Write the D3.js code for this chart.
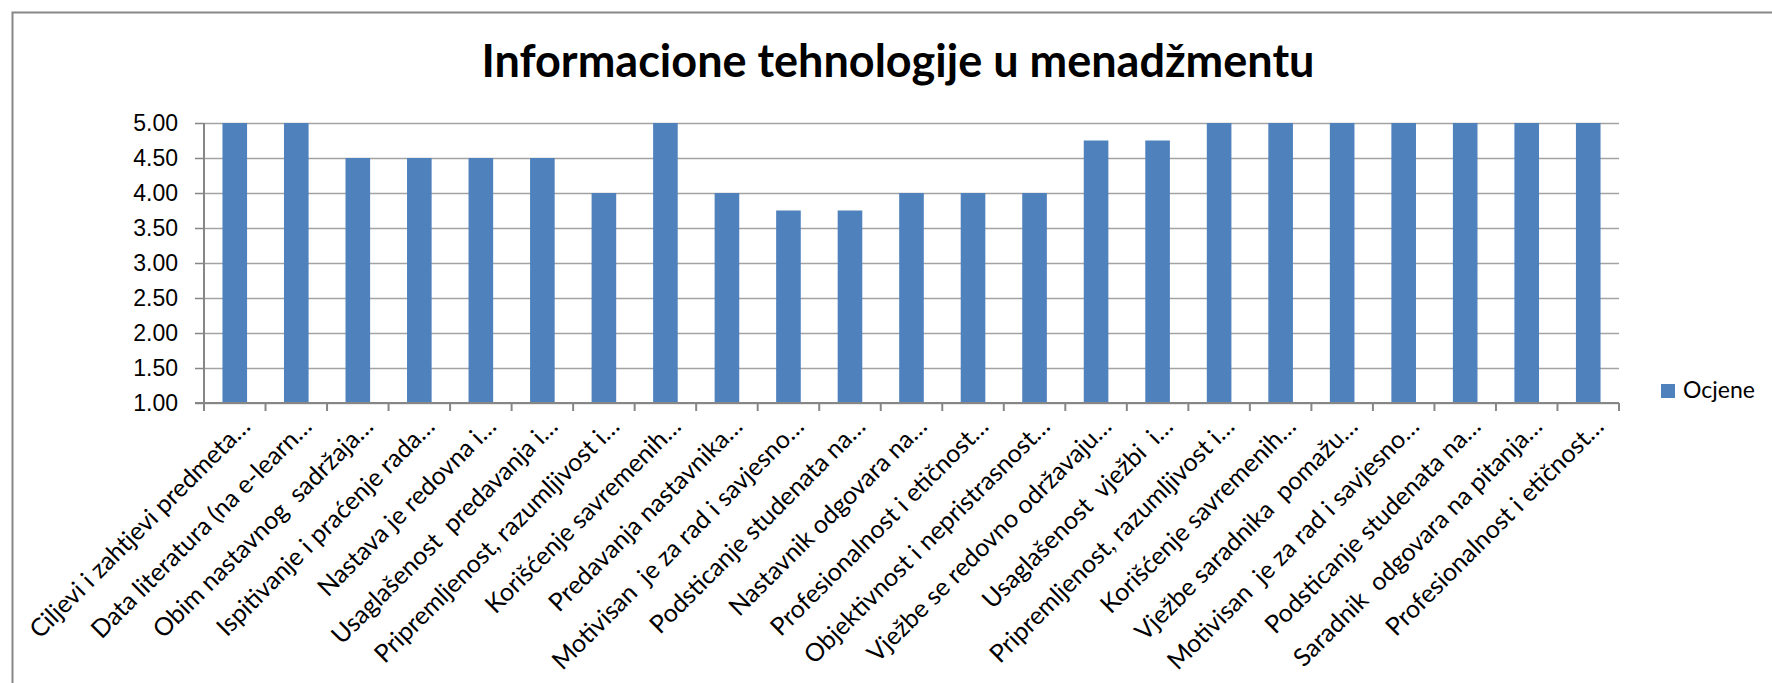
<!DOCTYPE html>
<html>
<head>
<meta charset="utf-8">
<script src="https://cdn.jsdelivr.net/npm/d3@7"></script>
<style>
  body { margin: 0; background: #fff; }
  svg { display: block; font-family: Lato, "Open Sans", sans-serif; }
  text { white-space: pre; }
</style>
</head>
<body>
<svg id="chart"></svg>
<script>
// kategorije i vrijednosti ocitane sa slike
const categories = [
    "Ciljevi i zahtjevi predmeta…",
    "Data literatura (na e-learn…",
    "Obim nastavnog  sadržaja…",
    "Ispitivanje i praćenje rada…",
    "Nastava je redovna i…",
    "Usaglašenost  predavanja i…",
    "Pripremljenost, razumljivost i…",
    "Korišćenje savremenih…",
    "Predavanja nastavnika…",
    "Motivisan  je za rad i savjesno…",
    "Podsticanje studenata na…",
    "Nastavnik odgovara na…",
    "Profesionalnost i etičnost…",
    "Objektivnost i nepristrasnost…",
    "Vježbe se redovno održavaju…",
    "Usaglašenost  vježbi  i…",
    "Pripremljenost, razumljivost i…",
    "Korišćenje savremenih…",
    "Vježbe saradnika  pomažu…",
    "Motivisan  je za rad i savjesno…",
    "Podsticanje studenata na…",
    "Saradnik  odgovara na pitanja…",
    "Profesionalnost i etičnost…"
];
const ocjene = [5, 5, 4.5, 4.5, 4.5, 4.5, 4, 5, 4, 3.75, 3.75, 4, 4, 4, 4.75, 4.75, 5, 5, 5, 5, 5, 5, 5];
const yTicks = [1, 1.5, 2, 2.5, 3, 3.5, 4, 4.5, 5];
const seriesName = "Ocjene";
const title = "Informacione tehnologije u menadžmentu";

const width = 1772;
const height = 683;
const margin = { top: 123, right: 153, bottom: 280, left: 204 };
const innerWidth = width - margin.left - margin.right;
const innerHeight = height - margin.top - margin.bottom;

const svg = d3.select("#chart")
    .attr("width", width)
    .attr("height", height);

// ramka grafikona
svg.append("rect")
    .attr("x", 12.5).attr("y", 12.5)
    .attr("width", width).attr("height", height)
    .attr("fill", "none")
    .attr("stroke", "#888888")
    .attr("stroke-width", 2);

svg.append("text")
    .attr("x", 898)
    .attr("y", 77)
    .attr("text-anchor", "middle")
    .style("font-size", "45px")
    .style("font-weight", "bold")
    .text(title);

const g = svg.append("g")
    .attr("transform", `translate(${margin.left},${margin.top})`);

const x = d3.scaleBand()
    .domain(d3.range(categories.length))
    .range([0, innerWidth])
    .paddingInner(0.6)
    .paddingOuter(0.3);

const y = d3.scaleLinear()
    .domain([1, 5])
    .range([innerHeight, 0]);

// mreža
g.append("g")
    .attr("class", "grid")
    .call(d3.axisLeft(y).tickValues(yTicks).tickSize(-innerWidth).tickFormat(""))
    .call(s => s.select(".domain").remove())
    .selectAll("line")
    .attr("stroke", "#a3a3a3")
    .attr("stroke-width", 1.5);

// stubci
g.selectAll("rect.bar")
    .data(ocjene)
    .enter().append("rect")
    .attr("class", "bar")
    .attr("x", (d, i) => x(i))
    .attr("y", d => y(d))
    .attr("width", x.bandwidth())
    .attr("height", d => innerHeight - y(d))
    .attr("fill", "#4f81bd");

// y osa
const yAxis = g.append("g")
    .call(d3.axisLeft(y).tickValues(yTicks).tickSize(9).tickPadding(17).tickFormat(d3.format(".2f")));
yAxis.select(".domain").attr("stroke", "#868686").attr("stroke-width", 2).attr("d", `M0,0V${innerHeight}`);
yAxis.selectAll("line").attr("stroke", "#868686").attr("stroke-width", 1.5);
yAxis.selectAll("text").style("font-size", "23px").attr("fill", "#000");

// x osa - podioci na granicama kategorija
const step = x.step();
const boundaries = d3.range(categories.length + 1).map(i => i * step);
const xAxis = g.append("g").attr("transform", `translate(0,${innerHeight})`);
xAxis.append("line")
    .attr("x1", -9).attr("x2", innerWidth)
    .attr("stroke", "#868686").attr("stroke-width", 2);
xAxis.selectAll("line.tick")
    .data(boundaries)
    .enter().append("line")
    .attr("class", "tick")
    .attr("x1", d => d).attr("x2", d => d)
    .attr("y1", 0).attr("y2", 8)
    .attr("stroke", "#868686").attr("stroke-width", 2);

xAxis.selectAll("text")
    .data(categories)
    .enter().append("text")
    .attr("transform", (d, i) => `translate(${x(i) + x.bandwidth() / 2 + 17},${25}) rotate(-45)`)
    .attr("text-anchor", "end")
    .style("font-size", "25px")
    .text(d => d);

// legenda
const legend = svg.append("g").attr("transform", "translate(1661,384)");
legend.append("rect")
    .attr("width", 14).attr("height", 14)
    .attr("fill", "#4f81bd");
legend.append("text")
    .attr("x", 22).attr("y", 14)
    .style("font-size", "23px")
    .text(seriesName);
</script>
</body>
</html>
